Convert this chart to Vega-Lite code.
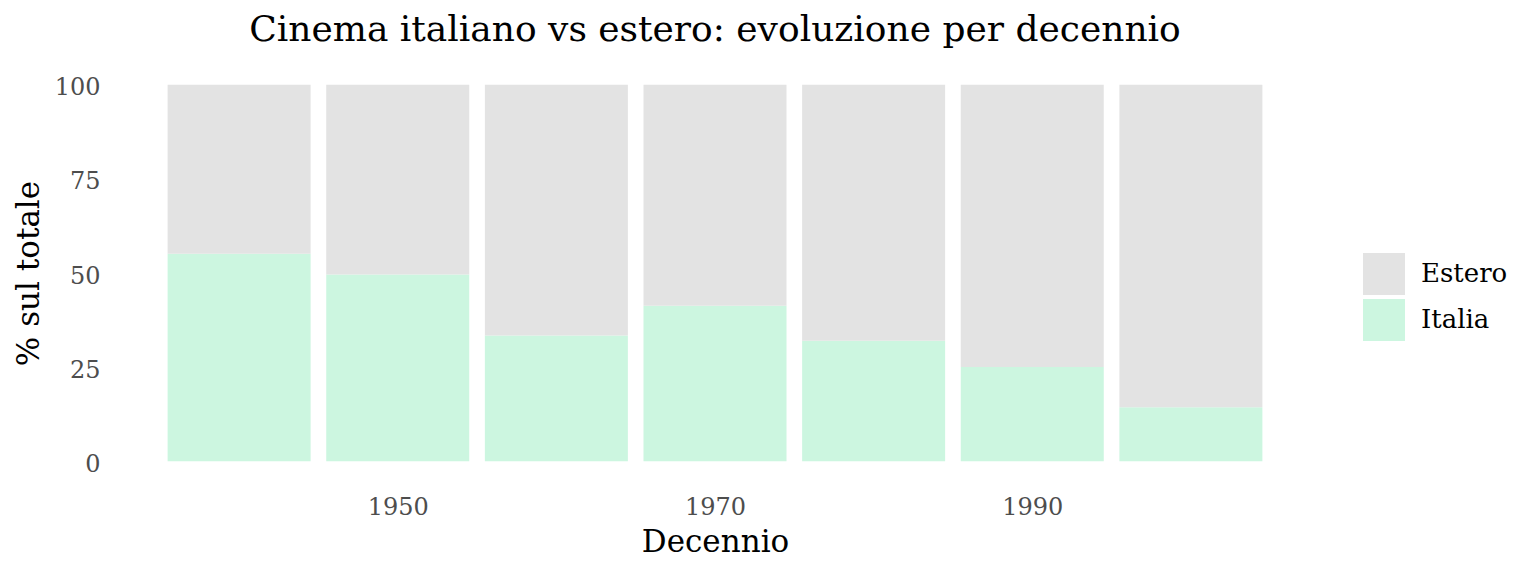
{
  "$schema": "https://vega.github.io/schema/vega-lite/v6.json",
  "autosize": {"type": "none"},
  "width": 1204,
  "height": 414,
  "padding": {"left": 113, "top": 66, "right": 219, "bottom": 96},
  "background": "white",
  "title": {
    "text": "Cinema italiano vs estero: evoluzione per decennio",
    "font": "DejaVu Serif",
    "fontSize": 36,
    "fontWeight": "normal",
    "color": "#000000",
    "anchor": "middle",
    "offset": 17
  },
  "config": {
    "view": {"stroke": null},
    "font": "DejaVu Serif"
  },
  "data": {
    "values": [
      {"decennio": 1940, "origine": "Italia", "pct": 55.1},
      {"decennio": 1940, "origine": "Estero", "pct": 44.9},
      {"decennio": 1950, "origine": "Italia", "pct": 49.6},
      {"decennio": 1950, "origine": "Estero", "pct": 50.4},
      {"decennio": 1960, "origine": "Italia", "pct": 33.4},
      {"decennio": 1960, "origine": "Estero", "pct": 66.6},
      {"decennio": 1970, "origine": "Italia", "pct": 41.3},
      {"decennio": 1970, "origine": "Estero", "pct": 58.7},
      {"decennio": 1980, "origine": "Italia", "pct": 32.0},
      {"decennio": 1980, "origine": "Estero", "pct": 68.0},
      {"decennio": 1990, "origine": "Italia", "pct": 25.0},
      {"decennio": 1990, "origine": "Estero", "pct": 75.0},
      {"decennio": 2000, "origine": "Italia", "pct": 14.3},
      {"decennio": 2000, "origine": "Estero", "pct": 85.7}
    ]
  },
  "mark": {"type": "bar", "width": 143},
  "encoding": {
    "x": {
      "field": "decennio",
      "type": "quantitative",
      "scale": {"domain": [1932.05, 2007.95], "nice": false, "zero": false, "padding": 0},
      "axis": {
        "title": "Decennio",
        "values": [1950, 1970, 1990],
        "format": "d",
        "ticks": false,
        "domain": false,
        "grid": false,
        "labelFont": "DejaVu Serif",
        "labelFontSize": 24,
        "labelColor": "#4D4D4D",
        "labelPadding": 15,
        "titleFont": "DejaVu Serif",
        "titleFontSize": 31,
        "titleFontWeight": "normal",
        "titleColor": "#000000",
        "titlePadding": 8
      }
    },
    "y": {
      "field": "pct",
      "type": "quantitative",
      "stack": "zero",
      "scale": {"domain": [-5, 105], "nice": false, "zero": false},
      "axis": {
        "title": "% sul totale",
        "values": [0, 25, 50, 75, 100],
        "ticks": false,
        "domain": false,
        "grid": false,
        "labelFont": "DejaVu Serif",
        "labelFontSize": 24,
        "labelColor": "#4D4D4D",
        "labelPadding": 13,
        "labelOffset": 3,
        "titleFont": "DejaVu Serif",
        "titleFontSize": 31,
        "titleFontWeight": "normal",
        "titleColor": "#000000",
        "titlePadding": 9
      }
    },
    "color": {
      "field": "origine",
      "type": "nominal",
      "scale": {"domain": ["Estero", "Italia"], "range": ["#E3E3E3", "#CCF6E0"]},
      "legend": {
        "title": null,
        "orient": "none",
        "legendX": 1250,
        "legendY": 187,
        "symbolType": "square",
        "symbolSize": 1764,
        "symbolStrokeWidth": 0,
        "labelFont": "DejaVu Serif",
        "labelFontSize": 26,
        "labelColor": "#000000",
        "labelOffset": 16,
        "rowPadding": 4
      }
    },
    "order": {"field": "origine", "sort": "descending"}
  }
}
